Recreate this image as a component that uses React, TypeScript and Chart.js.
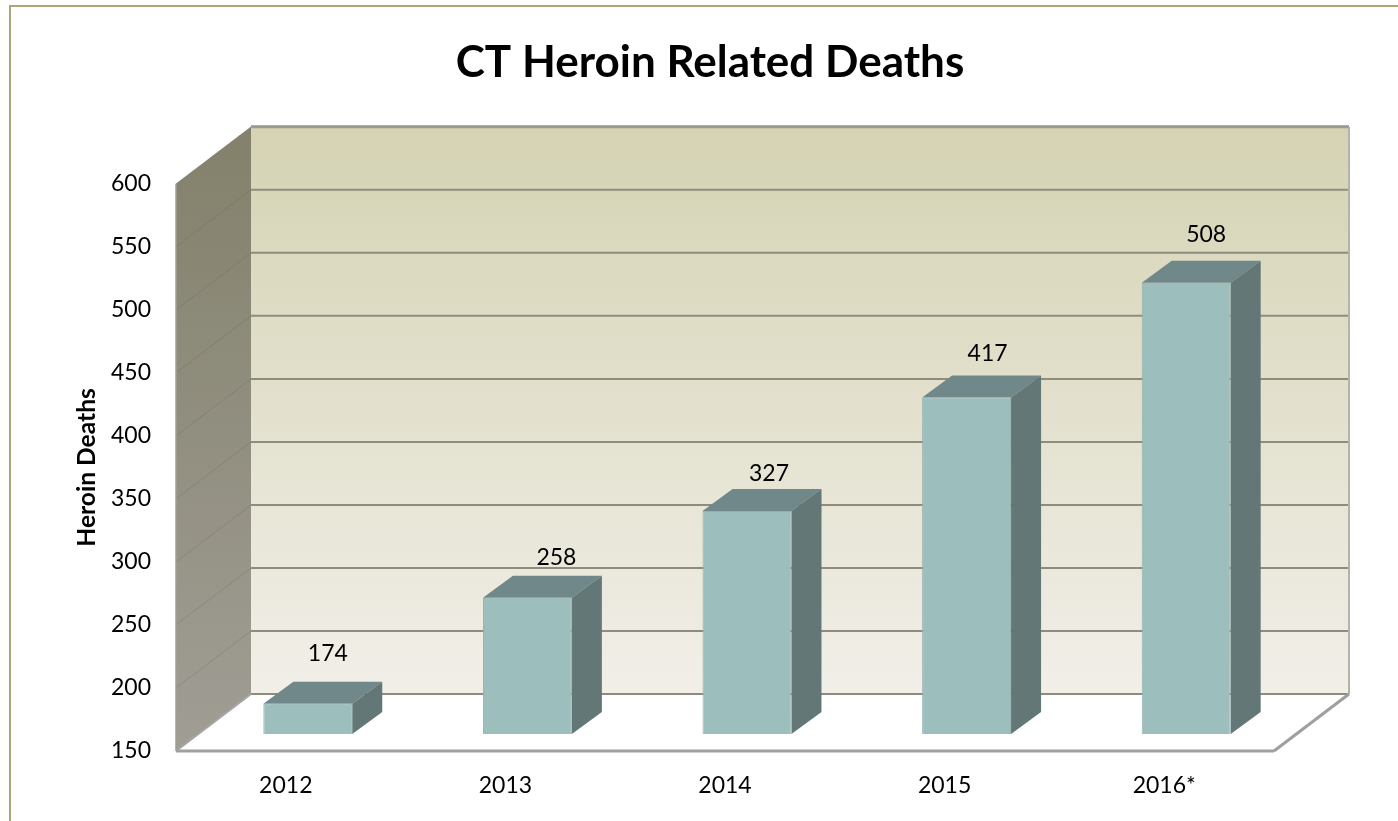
import React, { useEffect, useRef } from "react";
import { Chart, registerables } from "chart.js";

Chart.register(...registerables);

const categories = ["2012", "2013", "2014", "2015", "2016*"];
const heroinDeaths = [174, 258, 327, 417, 508];
const labelShiftX = [20, 29, 22, 21, 20];
const labelShiftY = [-50, -40, -37, -44, -48];

const FONT = "Lato, Carlito, Calibri, sans-serif";
const WALL_DX = 75;
const WALL_DY = -57;
const BAR_SHIFT_X = 22;
const BAR_SHIFT_Y = -17;
const BAR_DX = 30;
const BAR_DY = -22;

function poly(ctx: CanvasRenderingContext2D, pts: number[][], fill?: any, stroke?: string, lw = 1) {
  ctx.beginPath();
  pts.forEach((p, i) => (i ? ctx.lineTo(p[0], p[1]) : ctx.moveTo(p[0], p[1])));
  ctx.closePath();
  if (fill) {
    ctx.fillStyle = fill;
    ctx.fill();
  }
  if (stroke) {
    ctx.strokeStyle = stroke;
    ctx.lineWidth = lw;
    ctx.stroke();
  }
}

function line(ctx: CanvasRenderingContext2D, x1: number, y1: number, x2: number, y2: number, color: string, lw: number) {
  ctx.beginPath();
  ctx.moveTo(x1, y1);
  ctx.lineTo(x2, y2);
  ctx.strokeStyle = color;
  ctx.lineWidth = lw;
  ctx.stroke();
}

const scene3d = {
  id: "scene3d",
  afterLayout(chart: any) {
    // keep the narrow y box for the layout, but let its labels and title draw further left
    chart.scales.y.left = 60;
  },
  beforeDraw(chart: any) {
    const { ctx, chartArea: a, width, height } = chart;
    const yScale = chart.scales.y;
    ctx.save();
    ctx.fillStyle = "#ffffff";
    ctx.fillRect(0, 0, width, height);
    // outer frame
    ctx.strokeStyle = "#aba679";
    ctx.lineWidth = 2;
    ctx.strokeRect(10, 6, width + 20, height + 20);

    const L = a.left, R = a.right, T = a.top, B = a.bottom;
    const dx = WALL_DX, dy = WALL_DY;

    // side wall
    const sideGrad = ctx.createLinearGradient(0, T + dy, 0, B);
    sideGrad.addColorStop(0, "#83816b");
    sideGrad.addColorStop(1, "#a09d95");
    poly(ctx, [[L, T], [L + dx, T + dy], [L + dx, B + dy], [L, B]], sideGrad);

    // back wall
    const backGrad = ctx.createLinearGradient(0, T + dy, 0, B + dy);
    backGrad.addColorStop(0, "#d5d3b3");
    backGrad.addColorStop(1, "#f1efe8");
    ctx.fillStyle = backGrad;
    ctx.fillRect(L + dx, T + dy, R - L, B - T);

    // grid lines on both walls from the y scale's ticks
    yScale.ticks.forEach((t: any) => {
      const y = yScale.getPixelForValue(t.value);
      if (t.value !== 150) line(ctx, L, y, L + dx, y + dy, "rgba(105,100,88,0.3)", 1);
      line(ctx, L + dx, y + dy, R + dx, y + dy, "#8f8c7d", 2);
    });
    line(ctx, L + dx, T + dy, R + dx, T + dy, "#9c9a8c", 3);
    line(ctx, R + dx, T + dy, R + dx, B + dy, "#b4b3ab", 2);
    line(ctx, L, T, L, B, "#a09e94", 1.5);

    // floor edges
    line(ctx, L, B, L + dx, B + dy, "#a5a5a5", 2);
    line(ctx, R + dx, B + dy, R, B, "#9f9f9f", 3);
    line(ctx, L, B, R, B, "#9f9f9f", 3);
    ctx.restore();
  },
  beforeDatasetsDraw(chart: any) {
    const { ctx } = chart;
    const bars = chart.getDatasetMeta(0).data;
    ctx.save();
    ctx.translate(BAR_SHIFT_X, BAR_SHIFT_Y);
    bars.forEach((bar: any) => {
      const l = bar.x - bar.width / 2, r = bar.x + bar.width / 2;
      poly(ctx, [[l, bar.y], [l + BAR_DX, bar.y + BAR_DY], [r + BAR_DX, bar.y + BAR_DY], [r, bar.y]], "#70888a");
      poly(ctx, [[r, bar.y], [r + BAR_DX, bar.y + BAR_DY], [r + BAR_DX, bar.base + BAR_DY], [r, bar.base]], "#627776");
    });
  },
  afterDatasetsDraw(chart: any) {
    const { ctx } = chart;
    ctx.restore();
    const bars = chart.getDatasetMeta(0).data;
    ctx.save();
    ctx.fillStyle = "#000000";
    ctx.font = `23px ${FONT}`;
    ctx.textAlign = "center";
    ctx.textBaseline = "middle";
    bars.forEach((bar: any, i: number) => {
      ctx.fillText(
        String(heroinDeaths[i]),
        bar.x + BAR_SHIFT_X + labelShiftX[i],
        bar.y + BAR_SHIFT_Y + labelShiftY[i]
      );
    });
    ctx.restore();
  },
};

export default function App() {
  const ref = useRef<HTMLCanvasElement>(null);
  useEffect(() => {
    const chart = new Chart(ref.current as HTMLCanvasElement, {
      type: "bar",
      data: {
        labels: categories,
        datasets: [
          {
            label: "Heroin Deaths",
            data: heroinDeaths,
            base: 150,
            backgroundColor: "#9cbebd",
            borderColor: "#93b0af",
            borderWidth: 1,
            barPercentage: 0.405,
            categoryPercentage: 1,
          },
        ],
      },
      options: {
        responsive: false,
        animation: false,
        devicePixelRatio: 1,
        layout: { padding: { left: 146, right: 124, top: 0, bottom: 0 } },
        plugins: {
          legend: { display: false },
          tooltip: { enabled: false },
          title: {
            display: true,
            text: "CT Heroin Related Deaths",
            color: "#000000",
            font: { family: FONT, size: 44, weight: "bold" },
            padding: { top: 36, bottom: 95 },
          },
        },
        scales: {
          x: {
            grid: { display: false, drawTicks: false },
            border: { display: false },
            ticks: { color: "#000000", font: { family: FONT, size: 23 }, padding: 21, maxRotation: 0 },
            afterFit(s: any) {
              s.height = 70;
            },
          },
          y: {
            min: 150,
            max: 600,
            grid: { display: false, drawTicks: false },
            border: { display: false },
            ticks: { stepSize: 50, color: "#000000", font: { family: FONT, size: 23 }, padding: 25 },
            title: {
              display: true,
              text: "Heroin Deaths",
              color: "#000000",
              font: { family: FONT, size: 24.6, weight: "bold" },
              padding: { top: 12, bottom: 0 },
            },
            afterFit(s: any) {
              s.width = 30;
            },
          },
        },
      },
      plugins: [scene3d],
    } as any);
    return () => chart.destroy();
  }, []);
  return (
    <div style={{ position: "fixed", left: 0, top: 0, width: 1398, height: 821, background: "#fff" }}>
      <canvas ref={ref} width={1398} height={821} style={{ display: "block", width: 1398, height: 821 }} />
    </div>
  );
}
